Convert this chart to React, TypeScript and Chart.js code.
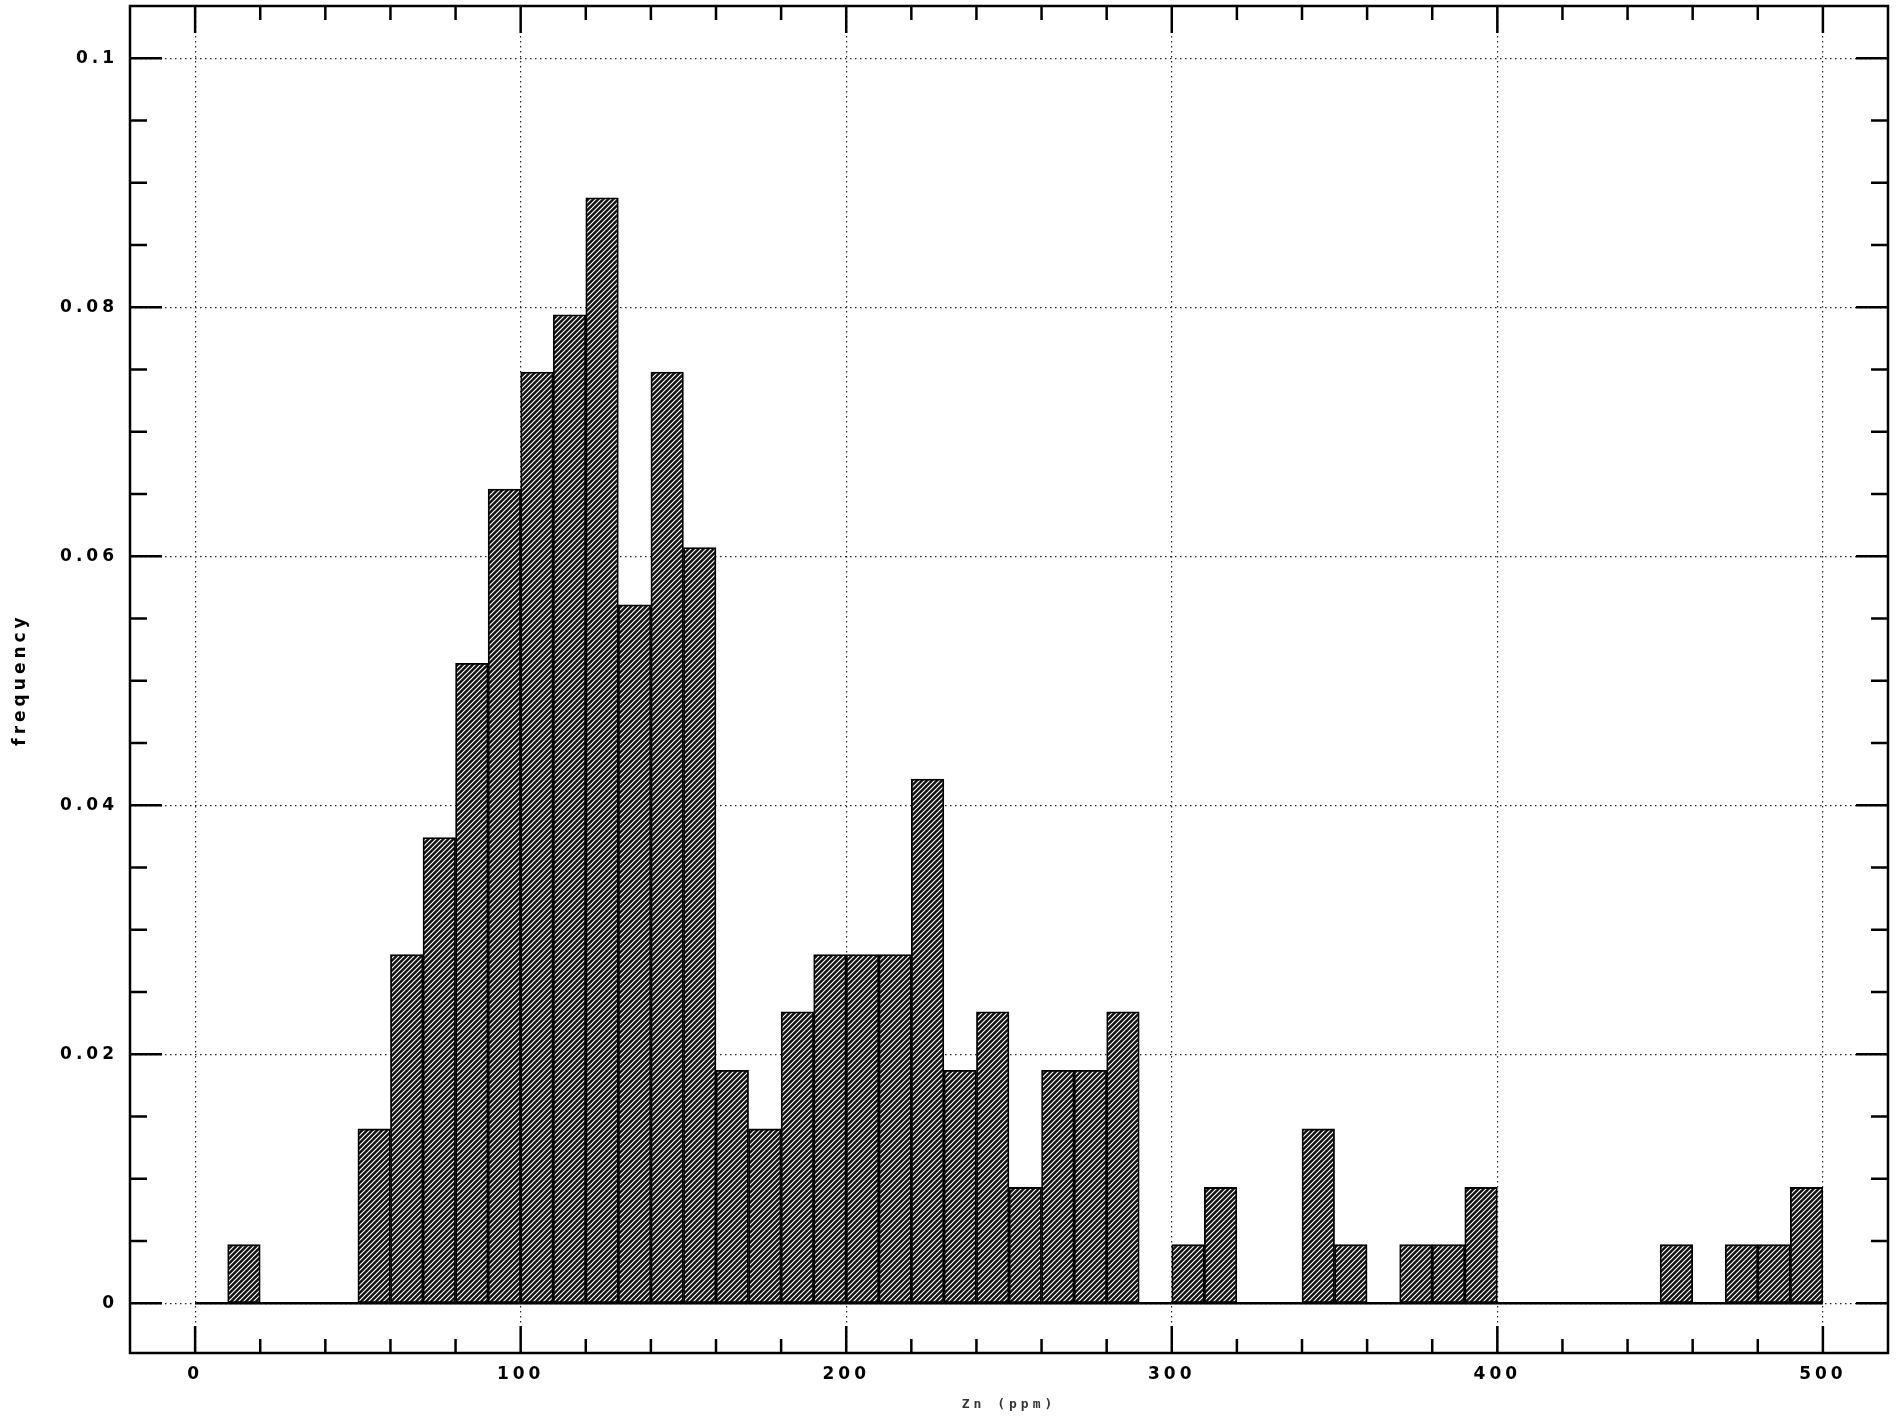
import React, { useEffect, useRef } from "react";
import { Chart, registerables } from "chart.js";

Chart.register(...registerables);

// Histogram bins (left edge, ppm) and their relative frequencies
const BIN_LEFT = [
  10, 50, 60, 70, 80, 90, 100, 110, 120, 130, 140, 150, 160, 170, 180, 190,
  200, 210, 220, 230, 240, 250, 260, 270, 280, 300, 310, 340, 350, 370, 380,
  390, 450, 470, 480, 490,
];
const FREQUENCY = [
  0.0047, 0.014, 0.028, 0.0374, 0.0514, 0.0654, 0.0748, 0.0794, 0.0888, 0.0561,
  0.0748, 0.0607, 0.0187, 0.014, 0.0234, 0.028, 0.028, 0.028, 0.0421, 0.0187,
  0.0234, 0.0093, 0.0187, 0.0187, 0.0234, 0.0047, 0.0093, 0.014, 0.0047, 0.0047,
  0.0047, 0.0093, 0.0047, 0.0047, 0.0047, 0.0093,
];
const BIN_WIDTH = 10;
const BASELINE_X = [0, 500];
const X_TITLE = "Zn (ppm)";
const Y_TITLE = "frequency";

const FONT = "'DejaVu Sans', 'Liberation Sans', sans-serif";
const MONO = "'DejaVu Sans Mono', 'Liberation Mono', monospace";

function makeHatch(ctx: CanvasRenderingContext2D) {
  const s = 5;
  const c = document.createElement("canvas");
  c.width = s;
  c.height = s;
  const g = c.getContext("2d")!;
  g.fillStyle = "#111";
  g.fillRect(0, 0, s, s);
  g.strokeStyle = "#fff";
  g.lineWidth = 1.15;
  g.beginPath();
  g.moveTo(0, s);
  g.lineTo(s, 0);
  g.moveTo(-1, 1);
  g.lineTo(1, -1);
  g.moveTo(s - 1, s + 1);
  g.lineTo(s + 1, s - 1);
  g.stroke();
  return ctx.createPattern(c, "repeat");
}

const framePlugin = {
  id: "frameTicks",
  beforeDraw(chart: any) {
    (chart.ctx as any).letterSpacing = "4px";
  },
  afterDatasetsDraw(chart: any) {
    const { ctx, chartArea: a, scales } = chart;
    const x = scales.x;
    const y = scales.y;
    ctx.save();
    (ctx as any).letterSpacing = "0px";
    ctx.strokeStyle = "#000";
    ctx.lineWidth = 2.5;
    ctx.setLineDash([]);
    ctx.strokeRect(a.left, a.top, a.right - a.left, a.bottom - a.top);
    ctx.beginPath();
    for (let k = 0; k <= 20; k++) {
      const v = k * 0.005;
      const len = k % 4 === 0 ? 32 : 17;
      const py = y.getPixelForValue(v);
      ctx.moveTo(a.left, py);
      ctx.lineTo(a.left + len, py);
      ctx.moveTo(a.right, py);
      ctx.lineTo(a.right - len, py);
    }
    for (let v = 0; v <= 500; v += 20) {
      const len = v % 100 === 0 ? 27 : 14;
      const px = x.getPixelForValue(v);
      ctx.moveTo(px, a.bottom);
      ctx.lineTo(px, a.bottom - len);
      ctx.moveTo(px, a.top);
      ctx.lineTo(px, a.top + len);
    }
    ctx.stroke();
    ctx.restore();
  },
  afterDraw(chart: any) {
    (chart.ctx as any).letterSpacing = "0px";
  },
};

export default function App() {
  const ref = useRef<HTMLCanvasElement | null>(null);

  useEffect(() => {
    const canvas = ref.current!;
    const ctx = canvas.getContext("2d")!;
    const hatch = makeHatch(ctx);
    const bars = BIN_LEFT.map((l, i) => ({ x: l + BIN_WIDTH / 2, y: FREQUENCY[i] }));
    const base = BASELINE_X.map((v) => ({ x: v, y: 0 }));

    const chart = new Chart(ctx, {
      type: "bar",
      data: {
        datasets: [
          {
            type: "line",
            data: base,
            borderColor: "#000",
            borderWidth: 2.5,
            pointRadius: 0,
            order: 0,
          } as any,
          {
            type: "bar",
            data: bars,
            backgroundColor: hatch as any,
            borderColor: "#000",
            borderWidth: 1.8,
            borderSkipped: false,
            barPercentage: 1,
            categoryPercentage: 1,
            order: 1,
          },
        ],
      },
      options: {
        responsive: false,
        animation: false,
        devicePixelRatio: 1,
        layout: { padding: { top: 6, right: 10, left: 0, bottom: 0 } },
        plugins: {
          legend: { display: false },
          tooltip: { enabled: false },
        },
        scales: {
          x: {
            type: "linear",
            min: -20,
            max: 520,
            offset: false,
            afterFit: (s: any) => {
              s.height = 66;
              s.paddingLeft = 0;
              s.paddingRight = 0;
            },
            grid: {
              offset: false,
              drawTicks: false,
              color: "#222",
              lineWidth: 1.2,
            },
            border: { display: false, dash: [1.5, 3.5] },
            ticks: {
              stepSize: 100,
              includeBounds: false,
              autoSkip: false,
              maxRotation: 0,
              padding: 11,
              color: "#000",
              font: { family: FONT, size: 17, weight: "bold" },
            },
            title: {
              display: true,
              text: X_TITLE,
              color: "#333",
              padding: { top: 0, bottom: 7 },
              font: { family: MONO, size: 13, weight: "bold" },
            },
          },
          y: {
            type: "linear",
            min: -0.004,
            max: 0.1042,
            afterFit: (s: any) => {
              s.width = 130;
              s.paddingTop = 0;
              s.paddingBottom = 0;
            },
            grid: {
              drawTicks: false,
              color: "#222",
              lineWidth: 1.2,
            },
            border: { display: false, dash: [1.5, 3.5] },
            ticks: {
              stepSize: 0.02,
              includeBounds: false,
              padding: 12,
              color: "#000",
              font: { family: FONT, size: 17, weight: "bold" },
              callback: (v: any) => String(Number(Number(v).toFixed(3))),
            },
            title: {
              display: true,
              text: Y_TITLE,
              color: "#000",
              padding: { top: 10, bottom: 0 },
              font: { family: FONT, size: 17, weight: "bold" },
            },
          },
        },
      },
      plugins: [framePlugin],
    });
    return () => chart.destroy();
  }, []);

  return (
    <canvas
      ref={ref}
      width={1898}
      height={1419}
      style={{ position: "fixed", left: 0, top: 0, display: "block", background: "#fff" }}
    />
  );
}
